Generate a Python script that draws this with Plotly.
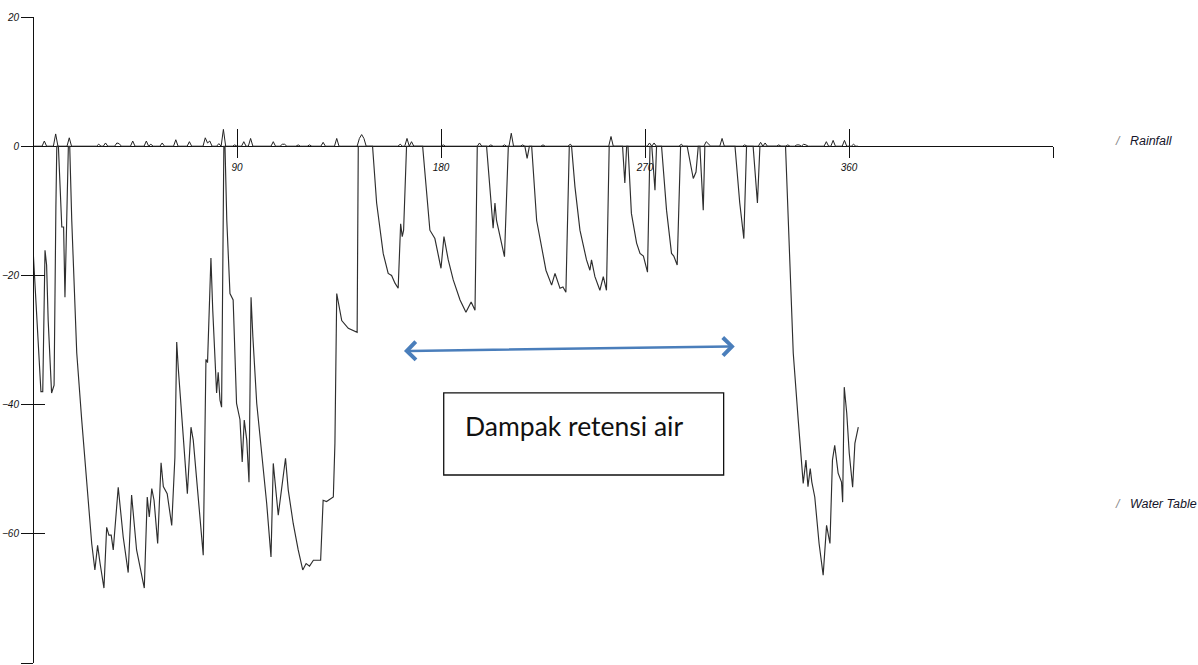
import numpy as np
import plotly.graph_objects as go

# ---- data ----
# daily rainfall spikes (day, mm-equivalent on chart scale); other days are 0
rain_days = [5, 10, 16, 29, 32, 37, 38, 44, 50, 52, 57, 63, 69, 76, 77, 78, 82, 84, 89, 93, 96,
             106, 110, 111, 117, 122, 128, 134, 144, 145, 146, 162, 165, 167, 181, 197, 202,
             208, 211, 216, 225, 237, 255, 272, 274, 286, 297, 298, 304, 314, 321, 323, 329,
             333, 337, 338, 340, 341, 350, 353, 358, 362]
rain_vals = [0.8, 1.9, 1.3, 0.3, 0.5, 0.5, 0.4, 0.8, 0.8, 0.3, 0.5, 1.0, 0.7, 1.3, 0.5, 0.8, 0.4, 2.6, 0.2, 0.7, 1.2,
             0.7, 0.3, 0.3, 0.2, 0.2, 0.6, 1.2, 1.2, 1.8, 1.2, 0.3, 1.2, 0.7, 0.2, 0.5, 0.2,
             0.2, 2.0, 0.2, 0.2, 0.3, 1.5, 0.5, 0.5, 0.3, 0.7, 0.3, 1.2, 0.2, 0.6, 0.5, 0.2,
             0.2, 0.2, 0.2, 0.3, 0.2, 0.7, 0.9, 0.9, 0.3]
n_days = 365

wt_days = [0, 3.5, 4.3, 5.3, 6, 6.7, 8.2, 9.3, 10.1, 10.5, 11.2, 12.7, 13.5, 14.1, 15.6, 16.2,
           17.1, 19.3, 21.5, 23.7, 25.9, 27.3, 28.5, 29.6, 31.3, 32.5, 33.5, 34.5, 35.4, 37.6,
           39.8, 42, 43.5, 45.7, 49.1, 50.4, 51.3, 52.4, 53.4, 55, 56.5, 57.5, 59.2, 61.2, 62.6,
           63.4, 64.1, 66.3, 68.1, 69.7, 70.7, 75.1, 76.3, 77, 78.5, 79.3, 80.3, 81, 81.7, 82.5,
           83.2, 83.7, 84.2, 84.7, 85.5, 86.9, 88.3, 89.8, 91.3, 92.3, 93.2, 94.3, 95.3, 96.2,
           97, 98.7, 100.9, 103.1, 105, 106, 108.2, 111.4, 112.6, 114.8, 117, 119, 120.5, 122,
           123.7, 126.9, 128, 129.5, 132.5, 133.2, 134, 136.2, 139.1, 143, 143.5,
           149.8, 151.6, 153, 154.5, 156.7, 158.2, 159.7, 161.1, 162.2, 162.9, 163.5, 164.8,
           171.9, 173.7, 175.1, 177.3, 180, 181.3, 183.2, 185.4, 188.4, 191, 192, 193.3, 195, 196,
           200.1, 203, 203.8, 204.5, 208, 209.7, 217, 218, 219, 220, 222.2, 224.4, 226.3, 228.8,
           230.3, 232.5, 233.8, 235.1, 236.6, 237.6, 239.1, 241.3, 244.2, 245.7, 246.4, 247.9,
           250.1, 251.6, 253, 254.2, 260.1, 261.1, 261.9, 262.5, 264, 266.3, 267.8, 269.3, 271.1,
           272.2, 273, 274.4, 275.1, 277.3, 279.5, 281.7, 282.7, 284.2, 285.7, 288.6, 290, 291.3,
           292.5, 293.5, 294.2, 295.7, 296.4, 309.7, 311.8, 313.6, 314.8, 317.7, 319.6, 320.7,
           332, 333.2, 335.4, 337.6, 339.1, 339.8, 341, 341.9, 342.9, 343.6, 344.9, 346.8, 348.6,
           350.1, 351.6, 352.7, 353.7, 355.2, 356.7, 357.2, 357.9, 359, 360.1, 361.6, 362.6, 364.1]
wt_vals = [-15.8, -38, -38, -16.1, -18.4, -27, -38.2, -37, -9.4, 0, 0, -12.5, -12.5, -23.4, 0, 0,
           -11.5, -32, -42.4, -52.6, -61.5, -65.6, -61.8, -64.6, -68.4, -59, -60.2, -60.2, -62.5, -52.8,
           -60.5, -66, -54, -62.5, -68.4, -54.3, -57.4, -53, -54.8, -61.5, -49, -52.7, -53.8, -58.7, -48.2,
           -30.3, -34.4, -45, -53.8, -43.5, -45.5, -63.3, -33, -33.5, -17.3, -25.4, -33, -38.2, -35, -39.3,
           -40.4, -10.4, 0, 0, -11.5, -22.8, -23.8, -39.8, -42.3, -48.9, -42.4, -45.5, -52, -23.4,
           -29.5, -39.8, -47.5, -55.3, -63.6, -49.1, -57.1, -48.3, -53.2, -58.4, -62.5, -65.6, -64.6, -65,
           -64.1, -64.1, -54.8, -55, -54.3, -46, -22.8, -27, -28.2, -28.8, 0,
           0, -8.8, -13, -16.6, -19.7, -20, -21.2, -22, -12, -14, -13, 0,
           0, -7.9, -13, -14.3, -18.9, -14, -17.6, -20.7, -23.8, -25.7, -25, -24.1, -25.4, 0,
           0, -12.7, -8.8, -11.5, -17.1, 0, 0, -1.9, 0, 0, -11.5, -15.6, -19.2, -21.5,
           -19.7, -22, -21.8, -22.6, 0, 0, -6.3, -13, -17.6, -19.2, -17.6, -20.2,
           -22.3, -20.2, -22.3, 0, 0, -5.7, 0, 0, -10.4, -15, -16.6, -17, -19.5,
           0, 0, -6.8, 0, 0, -9.9, -16.6, -17, -18.4, 0, 0, -2.6, -5,
           -4, 0, 0, -9.9, 0, 0, -8.8, -14.3, 0, 0, -8.8, 0,
           0, -11.5, -32, -42.4, -50.2, -52.2, -48.6, -52.7, -49.9, -52, -54.3, -61.5, -66.4,
           -58.7, -61.5, -48.6, -46.3, -50.6, -52, -55.1, -37.3, -41.3, -47.5, -52.8, -46, -43.5]

x_tick_vals = [0, 90, 180, 270, 360, 450]
x_tick_text = ["", "90", "180", "270", "360", ""]
y_tick_vals = [-80, -60, -40, -20, 0, 20]
x_range = [0, 450]
y_range = [-80, 20]

# build daily rainfall record (zero on days without rain)
rain_x = np.arange(n_days)
rain_y = np.zeros(n_days)
rain_y[rain_days] = rain_vals

tick_font = dict(family="Liberation Sans, Arial, sans-serif", size=10, style="italic", color="#111111")

fig = go.Figure()
fig.add_trace(go.Scatter(x=rain_x, y=rain_y, mode="lines", name="Rainfall",
                         line=dict(color="#222222", width=1), xaxis="x2", yaxis="y2",
                         hoverinfo="skip"))
fig.add_trace(go.Scatter(x=wt_days, y=wt_vals, mode="lines", name="Water Table",
                         line=dict(color="#2e2e2e", width=1.15), hoverinfo="skip"))

fig.update_layout(
    width=1198, height=665,
    margin=dict(l=33, r=145, t=17, b=2),
    paper_bgcolor="white", plot_bgcolor="white",
    showlegend=False,
    xaxis=dict(range=x_range, anchor="free", position=0.8, showline=False, showgrid=False,
               zeroline=False, tickmode="array", tickvals=x_tick_vals, ticktext=x_tick_text,
               ticks="outside", ticklen=11, tickwidth=1, tickcolor="#111111",
               tickfont=tick_font, ticklabelstandoff=1, automargin=False, fixedrange=True),
    xaxis2=dict(range=x_range, overlaying="x", anchor="free", position=0.8, showline=False,
                showgrid=False, zeroline=False, tickmode="array", tickvals=x_tick_vals,
                ticks="inside", ticklen=17, tickwidth=1, tickcolor="#111111",
                showticklabels=False, automargin=False, fixedrange=True),
    yaxis=dict(range=y_range, anchor="free", position=0, showline=True, linecolor="#111111",
               linewidth=1, showgrid=False, zeroline=True, zerolinecolor="#111111",
               zerolinewidth=1, tickmode="array", tickvals=y_tick_vals, ticks="outside",
               ticklen=12, tickwidth=1, tickcolor="#111111", tickfont=tick_font,
               automargin=False, fixedrange=True),
    yaxis2=dict(range=y_range, overlaying="y", anchor="free", position=0, showline=False,
                showgrid=False, zeroline=False, tickmode="array", tickvals=y_tick_vals,
                ticks="inside", ticklen=11, tickwidth=1, tickcolor="#111111",
                showticklabels=False, automargin=False, fixedrange=True),
)

legend_font = dict(family="Liberation Sans, Arial, sans-serif", size=12.5, style="italic", color="#14142a")
fig.add_annotation(x=1.0588, y=0.808, xref="paper", yref="paper", xanchor="left", yanchor="middle",
                   text="<span style='color:#888888'>/</span>   Rainfall", showarrow=False, font=legend_font)
fig.add_annotation(x=1.0588, y=0.246, xref="paper", yref="paper", xanchor="left", yanchor="middle",
                   text="<span style='color:#888888'>/</span>   Water Table", showarrow=False, font=legend_font)

# double-headed arrow
fig.add_annotation(x=309.6, y=-31.0, ax=163.0, ay=-31.7, xref="x", yref="y", axref="x", ayref="y",
                   text="", showarrow=True, arrowhead=4, startarrowhead=4, arrowside="end+start",
                   arrowsize=1.4, startarrowsize=1.4, arrowwidth=2.5, arrowcolor="#4a7ebb", standoff=0,
                   startstandoff=0)

# text box
fig.add_shape(type="rect", xref="x", yref="y", x0=181.2, x1=304.7, y0=-38.2, y1=-50.9,
              line=dict(color="#111111", width=1.3), fillcolor="rgba(0,0,0,0)")
fig.add_annotation(x=189.6, y=-43.3, xref="x", yref="y", xanchor="left", yanchor="middle",
                   text="Dampak retensi air", showarrow=False,
                   font=dict(family="Lato, Carlito, sans-serif", size=26.5, color="#111111"))

fig.write_html("out.html", config={"displayModeBar": False, "staticPlot": True},
               post_script="document.body.style.margin='0';")
